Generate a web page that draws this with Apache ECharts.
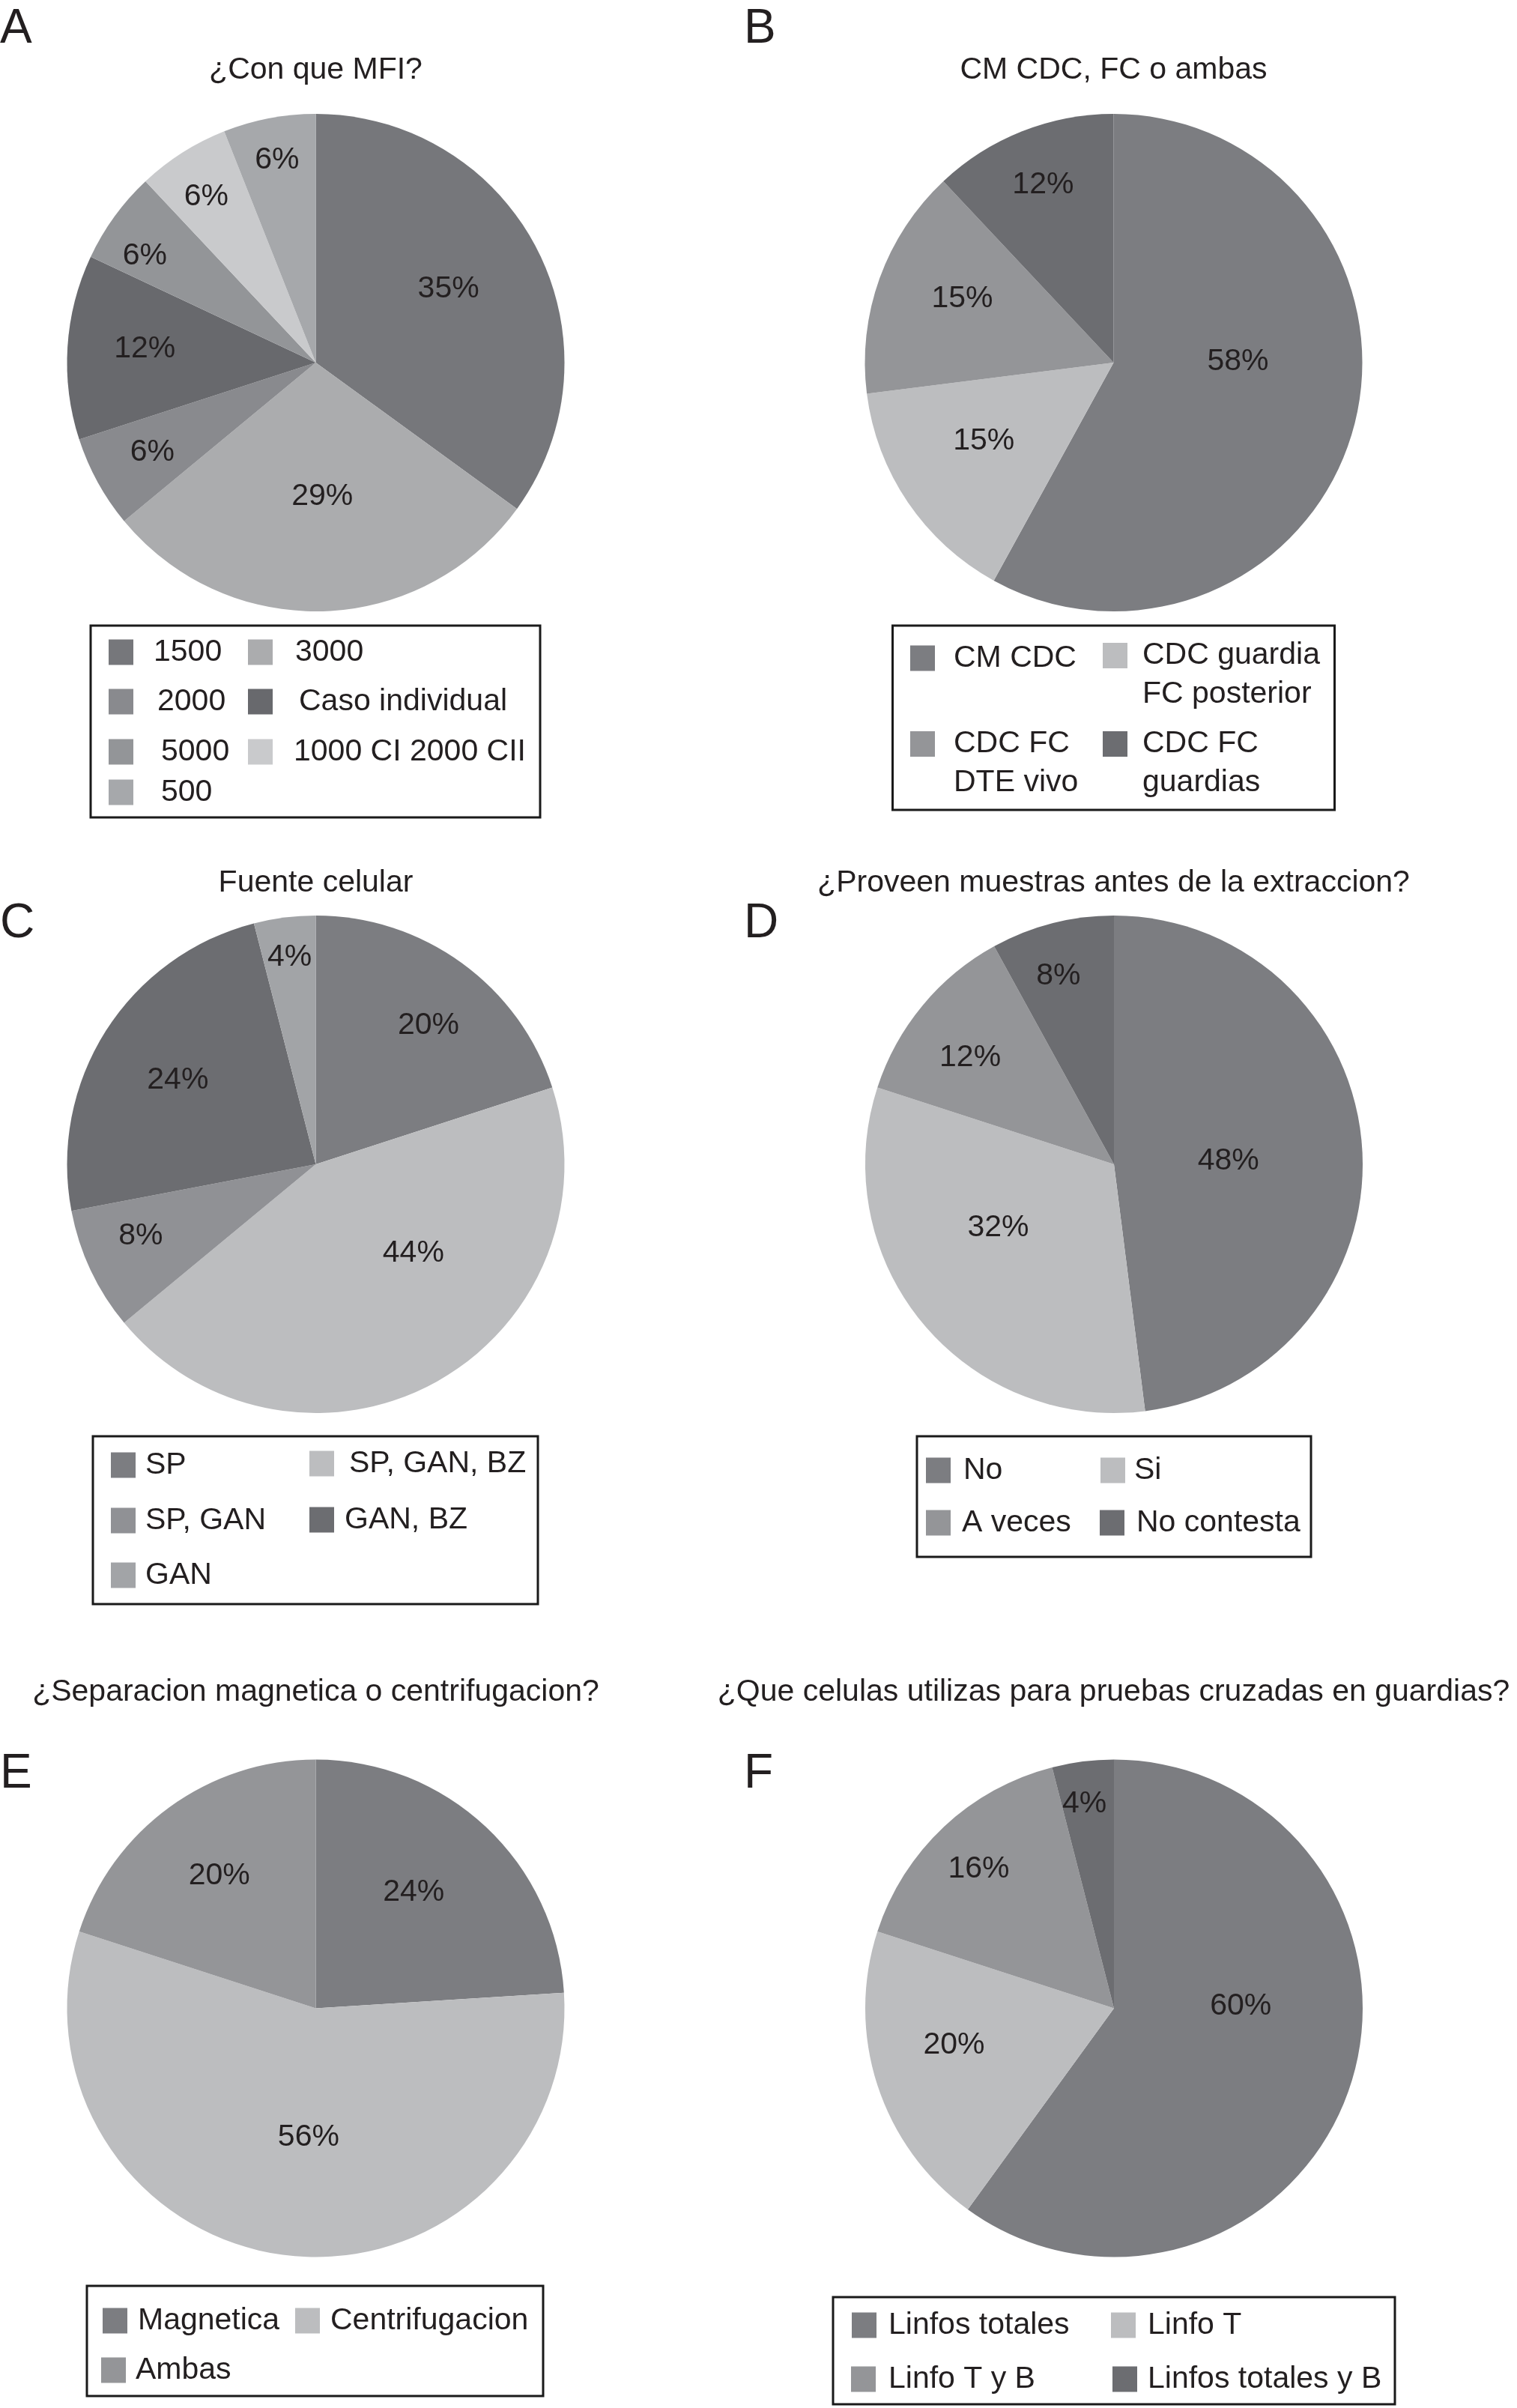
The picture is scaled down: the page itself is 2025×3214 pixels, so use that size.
<!DOCTYPE html>
<html>
<head>
<meta charset="utf-8">
<script src="https://cdn.jsdelivr.net/npm/echarts@6/dist/echarts.min.js"></script>
<style>
html,body{margin:0;padding:0;background:#fff;}
#chart{width:2025px;height:3214px;}
</style>
</head>
<body>
<div id="chart"></div>
<script>
// ---------- data ----------
const catA = ['1500', '3000', '2000', 'Caso individual', '5000', '1000 CI 2000 CII', '500'];
const valA = [35, 29, 6, 12, 6, 6, 6];
const catB = ['CM CDC', 'CDC guardia\nFC posterior', 'CDC FC\nDTE vivo', 'CDC FC\nguardias'];
const valB = [58, 15, 15, 12];
const catC = ['SP', 'SP, GAN, BZ', 'SP, GAN', 'GAN, BZ', 'GAN'];
const valC = [20, 44, 8, 24, 4];
const catD = ['No', 'Si', 'A veces', 'No contesta'];
const valD = [48, 32, 12, 8];
const catE = ['Magnetica', 'Centrifugacion', 'Ambas'];
const valE = [24, 56, 20];
const catF = ['Linfos totales', 'Linfo T', 'Linfo T y B', 'Linfos totales y B'];
const valF = [60, 20, 16, 4];
const titles = ['¿Con que MFI?', 'CM CDC, FC o ambas', 'Fuente celular',
  '¿Proveen muestras antes de la extraccion?', '¿Separacion magnetica o centrifugacion?',
  '¿Que celulas utilizas para pruebas cruzadas en guardias?'];
const letters = ['A', 'B', 'C', 'D', 'E', 'F'];

// ---------- styles / layout ----------
const FONT = "'Liberation Sans', Arial, Helvetica, sans-serif";
const INK = '#231f20';
const FS = 41;
const R = 332;
const panels = [
  { cats: catA, vals: valA, cx: 421.5, cy: 484,
    colors: ['#76777b', '#abacae', '#898a8e', '#68696d', '#939598', '#c9cacc', '#a6a8ab'],
    lr: [0.61, 0.54, 0.75, 0.69, 0.81, 0.80, 0.83], ls: [-2, -1, 0, 1, -4, -1, 0],
    titleY: 94, letterX: 0, letterY: 39, box: [121, 835, 600, 256],
    leg: [[145, 867, 205], [331, 867, 394], [145, 933, 210], [331, 933, 399], [145, 1000, 215], [331, 1000, 392], [145, 1054, 215]] },
  { cats: catB, vals: valB, cx: 1486.5, cy: 484,
    colors: ['#7c7d81', '#bcbdbf', '#949598', '#6c6d71'],
    lr: [0.50, 0.61, 0.66, 0.77], ls: [-15, 3, 3, 0],
    titleY: 94, letterX: 993, letterY: 39, box: [1191.5, 835, 590, 246],
    leg: [[1215, 875, 1273], [1472, 875, 1525], [1215, 993, 1273], [1472, 993, 1525]] },
  { cats: catC, vals: valC, cx: 421.5, cy: 1554,
    colors: ['#7c7d81', '#bcbdbf', '#909195', '#6c6d71', '#a2a4a7'],
    lr: [0.72, 0.53, 0.76, 0.65, 0.84], ls: [3, -19, 3, -1, 0],
    titleY: 1179, letterX: 0, letterY: 1233, box: [124, 1917, 594, 224],
    leg: [[148, 1952, 194], [413, 1950, 466], [148, 2026, 194], [413, 2025, 460], [148, 2099, 194]] },
  { cats: catD, vals: valD, cx: 1487, cy: 1554,
    colors: ['#7c7d81', '#bcbdbf', '#949598', '#6c6d71'],
    lr: [0.46, 0.53, 0.72, 0.79], ls: [2, 11, -3, -2],
    titleY: 1179, letterX: 993, letterY: 1233, box: [1224, 1917, 526, 161],
    leg: [[1236, 1959, 1286], [1469, 1959, 1514], [1236, 2029, 1284], [1468, 2029, 1517]] },
  { cats: catE, vals: valE, cx: 421.5, cy: 2680.5,
    colors: ['#7c7d81', '#bcbdbf', '#949598'],
    lr: [0.61, 0.52, 0.66], ls: [-3, -4, 0],
    titleY: 2259, letterX: 0, letterY: 2368, box: [116, 3051, 609, 147],
    leg: [[137, 3094, 184], [394, 3094, 441], [135, 3160, 181]] },
  { cats: catF, vals: valF, cx: 1487, cy: 2680.5,
    colors: ['#7c7d81', '#bcbdbf', '#949598', '#6c6d71'],
    lr: [0.51, 0.66, 0.78, 0.83], ls: [-19, 5, -1, -1],
    titleY: 2259, letterX: 993, letterY: 2368, box: [1112, 3066, 750, 143],
    leg: [[1137, 3100, 1186], [1483, 3100, 1532], [1136, 3172, 1186], [1485, 3172, 1532]] }
];
const titleX = [421.5, 1486.5, 421.5, 1486.5, 421.5, 1486.5];

const ICON_W = 33, ICON_H = 34, LINE_H = 52;

const series = [];
const legends = [];
const graphics = [];

panels.forEach((p, pi) => {
  const total = p.vals.reduce((a, b) => a + b, 0);
  const cum = [];
  p.vals.reduce((acc, v, i) => { cum[i] = acc; return acc + v; }, 0);
  series.push({
    type: 'pie',
    center: [p.cx, p.cy],
    radius: R,
    startAngle: 90,
    clockwise: true,
    avoidLabelOverlap: false,
    animation: false,
    silent: true,
    color: p.colors,
    itemStyle: { borderWidth: 0 },
    emphasis: { disabled: true },
    label: {
      show: true, position: 'inside', color: INK, fontSize: FS, fontFamily: FONT,
      formatter: (d) => d.value + '%'
    },
    labelLine: { show: false },
    labelLayout: (params) => {
      const i = params.dataIndex;
      const a = ((cum[i] + p.vals[i] / 2) / total * 360 + p.ls[i]) * Math.PI / 180;
      const k = p.lr[i] * R;
      return { x: p.cx + k * Math.sin(a), y: p.cy - k * Math.cos(a), align: 'center', verticalAlign: 'middle' };
    },
    data: p.cats.map((c, i) => ({ name: c, value: p.vals[i] }))
  });
  p.cats.forEach((c, i) => {
    const [ix, icy, tx] = p.leg[i];
    const lines = c.split('\n').length;
    const gap = tx - (ix + ICON_W) - 5;
    let top, lh, fmt;
    if (lines === 1) {
      lh = ICON_H; top = icy - ICON_H / 2; fmt = (n) => n;
    } else {
      // pad with empty lines above so the first line sits level with the icon
      lh = LINE_H;
      const total = 2 * lines - 1;
      const pre = '\n'.repeat(lines - 1);
      fmt = (n) => pre + n;
      top = icy - (LINE_H * total) / 2;
    }
    legends.push({
      data: [c], left: ix, top: top, padding: 0, orient: 'horizontal',
      itemWidth: ICON_W, itemHeight: ICON_H, icon: 'rect', selectedMode: false,
      itemStyle: { borderWidth: 0 },
      formatter: fmt,
      textStyle: { fontSize: FS, fontFamily: FONT, color: INK, lineHeight: lh, padding: [0, 0, 0, gap] }
    });
  });
  graphics.push({
    type: 'rect', silent: true,
    shape: { x: p.box[0], y: p.box[1], width: p.box[2], height: p.box[3] },
    style: { fill: 'none', stroke: '#1a1a1a', lineWidth: 3 }
  });
  graphics.push({
    type: 'text', silent: true,
    style: { x: titleX[pi], y: p.titleY, text: titles[pi], fill: INK, font: FS + 'px ' + FONT,
      align: 'center', verticalAlign: 'middle' }
  });
  graphics.push({
    type: 'text', silent: true,
    style: { x: p.letterX, y: p.letterY, text: letters[pi], fill: INK, font: '64px ' + FONT,
      align: 'left', verticalAlign: 'middle' }
  });
});

const chart = echarts.init(document.getElementById('chart'), null, { renderer: 'canvas' });
chart.setOption({
  backgroundColor: '#ffffff',
  animation: false,
  legend: legends,
  graphic: { elements: graphics },
  series: series
});
</script>
</body>
</html>
